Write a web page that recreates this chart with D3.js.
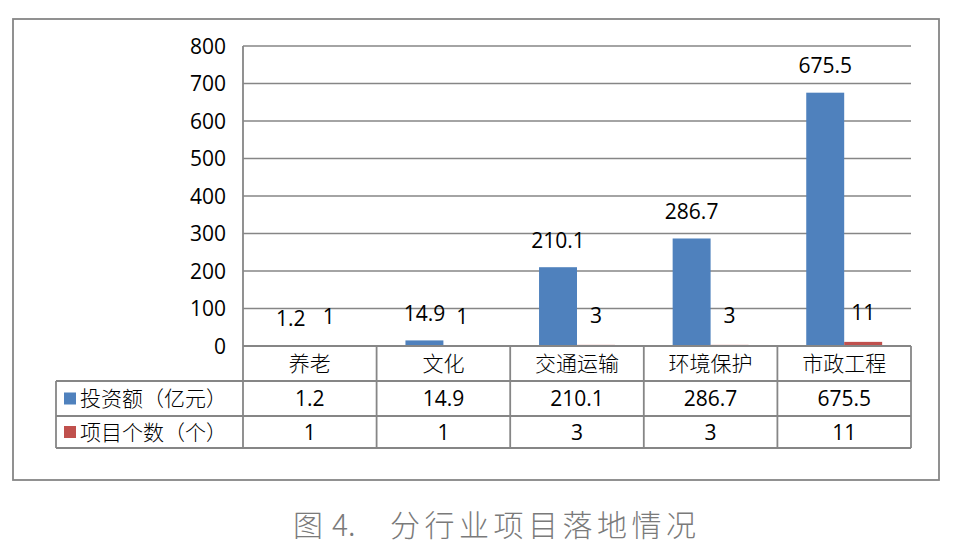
<!DOCTYPE html>
<html>
<head>
<meta charset="utf-8">
<script src="https://cdn.jsdelivr.net/npm/d3@7/dist/d3.min.js"></script>
<style>
body { margin: 0; background: #fff; }
svg text { font-family: "Open Sans", "Noto Sans CJK SC", sans-serif; fill: #000; }
svg text.zh { font-family: "Noto Sans CJK SC", sans-serif; font-weight: 300; }
</style>
</head>
<body>
<script>
var categories = ["养老", "文化", "交通运输", "环境保护", "市政工程"];
var investment = [1.2, 14.9, 210.1, 286.7, 675.5];
var projects = [1, 1, 3, 3, 11];
var seriesNames = ["投资额（亿元）", "项目个数（个）"];
var seriesColors = ["#4F81BD", "#C0504D"];
var yTicks = [0, 100, 200, 300, 400, 500, 600, 700, 800];

var w = 953, h = 557;
var plotLeft = 243, plotRight = 911, plotTop = 46, plotBottom = 346;
var tableLeft = 56, row1 = 381, row2 = 416, row3 = 448;
var grid = "#868686";

var svg = d3.select("body").append("svg")
  .attr("width", w)
  .attr("height", h);

// outer frame
svg.append("rect")
  .attr("x", 13).attr("y", 19)
  .attr("width", 926).attr("height", 461)
  .attr("fill", "none")
  .attr("stroke", grid)
  .attr("stroke-width", 1.8);

var x = d3.scaleBand().domain(categories).range([plotLeft, plotRight]).padding(0);
var xs = d3.scaleBand().domain([0, 1]).range([0, x.bandwidth()]).paddingOuter(0.76).paddingInner(0);
var y = d3.scaleLinear().domain([0, 800]).range([plotBottom, plotTop]);

// gridlines
svg.selectAll("line.grid")
  .data(yTicks)
  .enter()
  .append("line")
  .attr("class", "grid")
  .attr("x1", plotLeft).attr("x2", plotRight)
  .attr("y1", function(d){ return y(d); })
  .attr("y2", function(d){ return y(d); })
  .attr("stroke", grid)
  .attr("stroke-width", 1.5);

// y tick labels
svg.selectAll("text.ytick")
  .data(yTicks)
  .enter()
  .append("text")
  .attr("class", "ytick")
  .attr("x", 226)
  .attr("y", function(d){ return y(d); })
  .attr("dy", "0.36em")
  .attr("text-anchor", "end")
  .style("font-size", "21px")
  .text(function(d){ return d; });

var series = [investment, projects];

series.forEach(function(vals, s) {
  svg.selectAll("rect.s" + s)
    .data(vals)
    .enter()
    .append("rect")
    .attr("class", "s" + s)
    .attr("x", function(d, i){ return x(categories[i]) + xs(s); })
    .attr("width", xs.bandwidth())
    .attr("y", function(d){ return y(d); })
    .attr("height", function(d){ return plotBottom - y(d); })
    .attr("fill", seriesColors[s]);

  svg.selectAll("text.lab" + s)
    .data(vals)
    .enter()
    .append("text")
    .attr("class", "lab" + s)
    .attr("x", function(d, i){ return x(categories[i]) + xs(s) + xs.bandwidth() / 2; })
    .attr("y", function(d){ return y(d) - (s === 0 ? 27 : 29); })
    .attr("dy", "0.36em")
    .attr("text-anchor", "middle")
    .style("font-size", "21px")
    .text(function(d){ return d; });
});

// data table lines
var tbl = svg.append("g").attr("stroke", grid).attr("stroke-width", 1.8);
tbl.append("line").attr("x1", plotLeft).attr("x2", plotRight).attr("y1", plotBottom).attr("y2", plotBottom);
[row1, row2, row3].forEach(function(r) {
  tbl.append("line").attr("x1", tableLeft).attr("x2", plotRight).attr("y1", r).attr("y2", r);
});
tbl.append("line").attr("x1", tableLeft).attr("x2", tableLeft).attr("y1", row1).attr("y2", row3);
tbl.append("line").attr("x1", plotLeft).attr("x2", plotLeft).attr("y1", plotTop).attr("y2", row3);
categories.forEach(function(c) {
  var xe = x(c) + x.bandwidth();
  tbl.append("line").attr("x1", xe).attr("x2", xe).attr("y1", plotBottom).attr("y2", row3);
});

// category row
svg.selectAll("text.cat")
  .data(categories)
  .enter()
  .append("text")
  .attr("class", "cat zh")
  .attr("x", function(d){ return x(d) + x.bandwidth() / 2; })
  .attr("y", (plotBottom + row1) / 2)
  .attr("dy", "0.36em")
  .attr("text-anchor", "middle")
  .style("font-size", "21px")
  .text(function(d){ return d; });

// series rows
var rowMid = [(row1 + row2) / 2, (row2 + row3) / 2];
series.forEach(function(vals, s) {
  svg.append("rect")
    .attr("x", 64).attr("y", rowMid[s] - 6)
    .attr("width", 12).attr("height", 12)
    .attr("fill", seriesColors[s]);
  svg.append("text")
    .attr("class", "zh")
    .attr("x", 80)
    .attr("y", rowMid[s])
    .attr("dy", "0.36em")
    .style("font-size", "21px")
    .text(seriesNames[s]);
  svg.selectAll("text.row" + s)
    .data(vals)
    .enter()
    .append("text")
    .attr("class", "row" + s)
    .attr("x", function(d, i){ return x(categories[i]) + x.bandwidth() / 2; })
    .attr("y", rowMid[s])
    .attr("dy", "0.36em")
    .attr("text-anchor", "middle")
    .style("font-size", "21px")
    .text(function(d){ return d; });
});

// caption
var cap = svg.append("text")
  .attr("y", 525)
  .attr("dy", "0.36em")
  .style("font-size", "30px")
  .style("font-weight", 300)
  .style("fill", "#7a7a7a")
  .style("font-family", "'Noto Sans CJK SC', sans-serif");
cap.append("tspan").attr("x", 293).text("图");
cap.append("tspan").attr("x", 332).text("4.");
cap.append("tspan").attr("x", 390).style("letter-spacing", "4.5px").text("分行业项目落地情况");
</script>
</body>
</html>
